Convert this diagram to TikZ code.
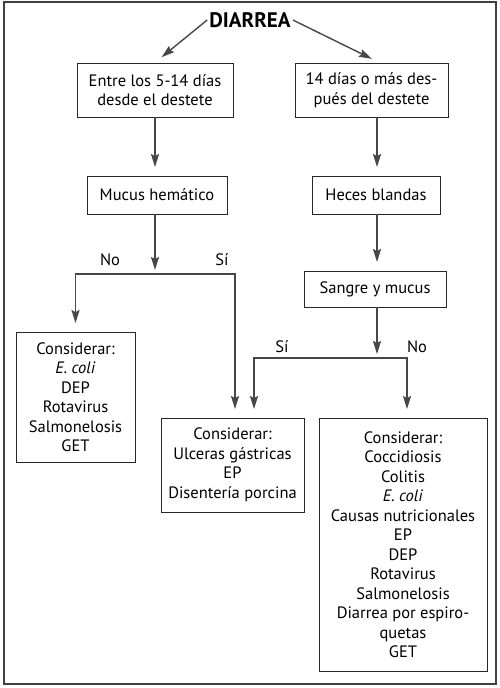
\documentclass[tikz,border=0pt]{standalone}
\usepackage{fontspec}
\setmainfont{PT Sans}
\usepackage{tikz}
\usetikzlibrary{positioning, arrows.meta, calc}

\begin{document}
\begin{tikzpicture}[x=1pt, y=-1pt]
    \tikzset{
        box/.style={
                draw=black!85, line width=0.9pt, align=center, inner sep=0pt,
                font=\fontsize{16.5}{19.5}\selectfont
            },
        flow/.style={
                -{Stealth[length=13pt, width=8pt, inset=2pt]},
                line width=1.4pt, color=black!72, shorten >=8.5pt
            },
        answer/.style={font=\fontsize{16.5}{18}\selectfont},
        title/.style={font=\fontsize{21}{22}\selectfont\bfseries, inner sep=2pt}
    }

    \useasboundingbox (0,0) rectangle (500,688);
    \draw[line width=1.6pt, black!75] (4,2) rectangle (496,684);

    \node[title] (diarrea) at (250,20) {DIARREA};

    \node[box, minimum width=156pt, minimum height=54pt] (early) at (155,90) {Entre los 5-14 días\\desde el destete};
    \node[box, minimum width=153pt, minimum height=54pt] (late) at (371.5,90) {14 días o más des-\\pués del destete};
    \node[box, minimum width=140pt, minimum height=38pt] (mucus) at (157,195) {Mucus hemático};
    \node[box, minimum width=128pt, minimum height=38pt] (heces) at (376,195) {Heces blandas};
    \node[box, minimum width=142pt, minimum height=36pt] (sangre) at (375,289) {Sangre y mucus};

    \node[box, minimum width=119pt, minimum height=130pt] (optA) at (75.5,397) {Considerar:\\\textit{E. coli}\\DEP\\Rotavirus\\Salmonelosis\\GET};
    \node[box, minimum width=143pt, minimum height=94pt] (optB) at (232.5,465) {Considerar:\\Ulceras gástricas\\EP\\Disentería porcina};
    \node[box, minimum width=168pt, minimum height=253pt] (optC) at (403,544.5) {Considerar:\\Coccidiosis\\Colitis\\\textit{E. coli}\\Causas nutricionales\\EP\\DEP\\Rotavirus\\Salmonelosis\\Diarrea por espiro-\\quetas\\GET};

    % branch points
    \coordinate (rcol) at (377,0);
    \coordinate (j1) at (155,274);
    \coordinate (j2) at (377,358);

    \draw[flow] (diarrea.west) -- (early.north);
    \draw[flow] (diarrea.east) -- ([xshift=8pt]late.north);

    \draw[flow] (early.south) -- (early.south |- mucus.north);
    \draw[flow] (late.south -| rcol) -- (heces.north -| rcol);
    \draw[flow] (heces.south -| rcol) -- (sangre.north -| rcol);

    \draw[flow, shorten >=4pt] (mucus.south -| j1) -- (j1);
    \draw[flow, shorten >=4pt] (sangre.south -| j2) -- (j2);

    \draw[flow] (j1) -| (optA.north);
    \draw[flow] (j1) -| ([xshift=2.5pt]optB.north);
    \draw[flow] (j2) -| ([xshift=21.5pt]optB.north);
    \draw[flow] (j2) -| ([xshift=4pt]optC.north);

    \node[answer] (noA) at (110,260) {No};
    \node[answer] (siA) at (222,260) {Sí};
    \node[answer] (siB) at (282,347) {Sí};
    \node[answer] (noB) at (417,347) {No};
\end{tikzpicture}
\end{document}
